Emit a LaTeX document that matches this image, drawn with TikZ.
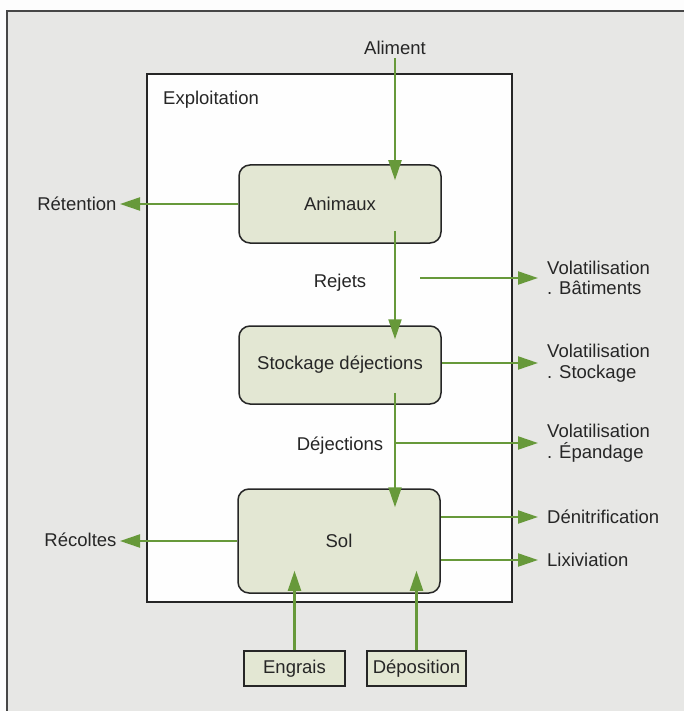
\documentclass[tikz,border=0pt]{standalone}
\usepackage{fontspec}
\setmainfont{Liberation Sans}
\usetikzlibrary{arrows.meta, positioning}

\definecolor{flowgreen}{HTML}{67993A}
\definecolor{boxfill}{HTML}{E3E7D3}
\definecolor{paper}{HTML}{E7E7E5}
\definecolor{inkgray}{HTML}{262626}

\begin{document}
\begin{tikzpicture}[x=1pt, y=-1pt,
  every node/.style={font=\fontsize{18.5}{20.5}\selectfont, text=inkgray},
  proc/.style={draw=inkgray, line width=1.5pt, rounded corners=11pt, fill=boxfill,
    minimum width=202pt, minimum height=78pt},
  src/.style={draw=inkgray, line width=1.3pt, fill=boxfill, minimum height=35pt, inner sep=0pt},
  flow/.style={draw=flowgreen, line width=2.1pt, -{Triangle[length=20pt, width=13pt]}},
  lbl/.style={align=left, anchor=west, inner xsep=9pt, inner ysep=0pt}]

% Frame
\useasboundingbox (0,0) rectangle (684,711);
\fill[white!94!paper] (0,0) rectangle (684,711);
\fill[paper] (7,11) rectangle (684,711);
\draw[inkgray!85, line width=1.6pt] (7,711) -- (7,11) -- (684,11);
\draw[fill=white!97!paper, draw=inkgray, line width=1.5pt] (147,74) rectangle (512,602);

% Define nodes
\node[anchor=west, inner sep=0pt] (exploit) at (163,100) {Exploitation};
\node (aliment) at (395,48) {Aliment};
\node[proc] (animaux) at (340,204) {Animaux};
\node[proc] (stockage) at (340,365) {Stockage déjections};
\node[proc, minimum height=104pt] (sol) at (339,541) {Sol};
\node[src, minimum width=101pt] (engrais) at (294.5,668.5) {Engrais};
\node[src, minimum width=99pt] (depot) at (416.5,668.5) {Déposition};
\node (rejets) at (340,283) {Rejets};
\node (dejections) at (340,446) {Déjections};
\node[anchor=east] (retention) at (120,204) {Rétention};
\node[anchor=east] (recoltes) at (120,540) {Récoltes};
\node[lbl] (volbat) at (538,278) {Volatilisation\\. Bâtiments};
\node[lbl] (volsto) at (538,363) {Volatilisation\\. Stockage};
\node[lbl] (volepa) at (538,443) {Volatilisation\\. Épandage};
\node[lbl] (denit) at (538,517) {Dénitrification};
\node[lbl] (lixiv) at (538,560) {Lixiviation};
\coordinate (batstart) at (420,278);
\coordinate (epastart) at (395,443);

% Flows
\draw[flow] (aliment.south) -- ([yshift=-16pt]aliment.south |- animaux.north);
\draw[flow] ([yshift=13pt]animaux.south -| aliment) -- ([yshift=-14pt]stockage.north -| aliment);
\draw[flow] ([yshift=12pt]stockage.south -| aliment) -- ([yshift=-19pt]sol.north -| aliment);
\draw[flow] (animaux.west) -- (animaux.west -| retention.east);
\draw[flow] (sol.west) -- (sol.west -| recoltes.east);
\draw[flow] (batstart) -- (volbat.west);
\draw[flow] (stockage.east |- volsto) -- (volsto.west);
\draw[flow] (epastart) -- (volepa.west);
\draw[flow] (sol.east |- denit) -- (denit.west);
\draw[flow] (sol.east |- lixiv) -- (lixiv.west);
\draw[flow] (engrais.north) -- ([yshift=23pt]sol.south -| engrais);
\draw[flow] (depot.north) -- ([yshift=23pt]sol.south -| depot);

\end{tikzpicture}
\end{document}
